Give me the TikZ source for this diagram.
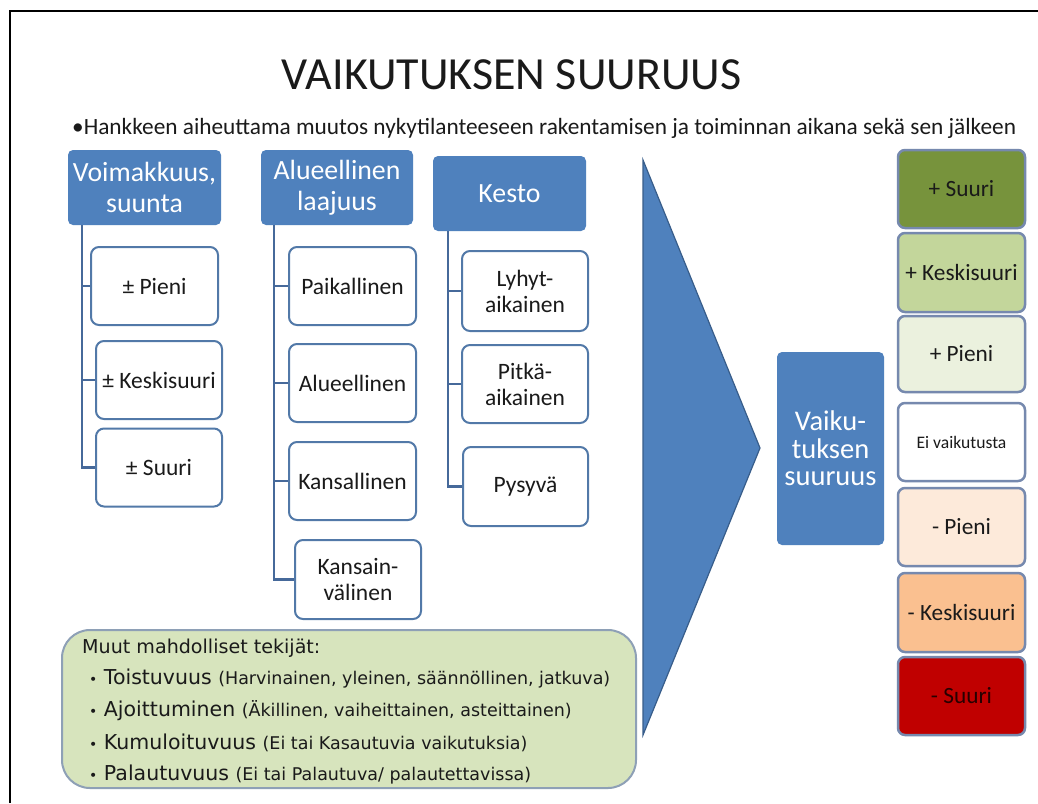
\documentclass[tikz,border=0pt]{standalone}
\usepackage{fontspec}
\setmainfont{Carlito}
\newfontfamily\verd{DejaVu Sans}
\definecolor{hblue}{HTML}{4F81BD}
\definecolor{lineblue}{HTML}{46699A}
\definecolor{leafedge}{HTML}{5279A8}
\definecolor{triedge}{HTML}{385D8A}
\definecolor{lvledge}{HTML}{7689AE}
\definecolor{gbig}{HTML}{77933C}
\definecolor{gmid}{HTML}{C3D69B}
\definecolor{gsmall}{HTML}{EBF1DE}
\definecolor{rsmall}{HTML}{FDEADA}
\definecolor{rmid}{HTML}{FAC090}
\definecolor{rbig}{HTML}{C00000}
\definecolor{notefill}{HTML}{D7E4BD}
\definecolor{noteedge}{HTML}{8EA0B6}
\definecolor{ink}{HTML}{1A1A1A}
\tikzset{
  hdr/.style={rounded corners=5pt, fill=hblue, text=white, align=center, inner sep=0pt,
    font=\fontsize{27.8}{31}\selectfont},
  leaf/.style={rounded corners=8pt, draw=leafedge, line width=2pt, fill=white, text=ink,
    align=center, inner sep=0pt, minimum width=126pt, minimum height=78pt,
    font=\fontsize{23.5}{26}\selectfont},
  conn/.style={draw=lineblue, line width=2.5pt},
  lvlbox/.style={rounded corners=7pt, draw=lvledge, line width=2.5pt, text=ink,
    minimum width=127pt, minimum height=78pt, inner sep=0pt, align=center,
    font=\fontsize{23.3}{26}\selectfont},
  noteline/.style={anchor=west, inner sep=0pt, text=ink, font=\verd\fontsize{20.5}{24}\selectfont},
}
\newcommand{\paren}[1]{{\fontsize{17.5}{20}\selectfont #1}}
\newcommand{\dotmark}{{\fontsize{14}{16}\selectfont•}}
\begin{document}
\begin{tikzpicture}[x=1pt,y=-1pt]
\useasboundingbox (0,0) rectangle (1038,803);
\fill[white] (0,0) rectangle (1038,803);
% slide frame
\draw[line width=2pt] (10,803) -- (10,11) -- (1038,11);

% title and subtitle
\node[font=\fontsize{46}{50}\selectfont, text=ink] (title) at (511.5,75) {VAIKUTUKSEN SUURUUS};
\node[font=\fontsize{23.3}{26}\selectfont, text=ink, anchor=west, inner sep=0pt] (sub) at (72,128)
  {•Hankkeen aiheuttama muutos nykytilanteeseen rakentamisen ja toiminnan aikana sekä sen jälkeen};

% column headers
\node[hdr, minimum width=153pt, minimum height=75pt] (h1) at (144.5,187.5) {Voimakkuus,\\suunta};
\node[hdr, minimum width=152pt, minimum height=75pt] (h2) at (337,187.5) {Alueellinen\\laajuus};
\node[hdr, minimum width=153pt, minimum height=75pt] (h3) at (509.5,193.5) {Kesto};

% column 1
\node[leaf, minimum width=127pt] (c1) at (154.5,286) {± Pieni};
\node[leaf] (c2) at (159,380) {± Keskisuuri};
\node[leaf] (c3) at (159,467.5) {± Suuri};
% column 2
\node[leaf, minimum width=127pt] (d1) at (352.5,286) {Paikallinen};
\node[leaf, minimum width=127pt] (d2) at (352.5,383) {Alueellinen};
\node[leaf, minimum width=127pt] (d3) at (352.5,481) {Kansallinen};
\node[leaf, minimum height=79pt] (d4) at (358,579.5) {Kansain-\\välinen};
% column 3
\node[leaf, minimum height=80pt] (e1) at (525,291) {Lyhyt-\\aikainen};
\node[leaf] (e2) at (525,384) {Pitkä-\\aikainen};
\node[leaf, minimum width=125pt, minimum height=79pt] (e3) at (525.5,486.5) {Pysyvä};

% tree connectors
\foreach \c in {c1,c2,c3} \draw[conn] ([xshift=14pt]h1.south west) |- (\c.west);
\foreach \c in {d1,d2,d3,d4} \draw[conn] ([xshift=13pt]h2.south west) |- (\c.west);
\foreach \c in {e1,e2,e3} \draw[conn] ([xshift=15pt]h3.south west) |- (\c.west);

% big arrow head
\filldraw[fill=hblue, draw=triedge, line width=1.2pt, line join=miter] (643,160) -- (760,448) -- (643,735) -- cycle;

% result box
\node[hdr, minimum width=107pt, minimum height=193pt, font=\fontsize{28.5}{27.5}\selectfont] (res) at (830.5,448.5)
  {Vaiku-\\tuksen\\suuruus};

% magnitude scale
\node[lvlbox, fill=gbig]   (r1) at (961.5,189)   {+ Suuri};
\node[lvlbox, fill=gmid, minimum height=79pt]   (r2) at (961.5,272.5) {+ Keskisuuri};
\node[lvlbox, fill=gsmall, minimum height=76pt] (r3) at (961.5,354)   {+ Pieni};
\node[lvlbox, fill=white, font=\fontsize{17.6}{20}\selectfont] (r4) at (961.5,442) {Ei vaikutusta};
\node[lvlbox, fill=rsmall] (r5) at (961.5,527)   {- Pieni};
\node[lvlbox, fill=rmid, minimum height=79pt]   (r6) at (961.5,612.5) {- Keskisuuri};
\node[lvlbox, fill=rbig, text=black!80!rbig]   (r7) at (961.5,696)   {- Suuri};

% other factors
\node[rounded corners=28pt, fill=notefill, draw=noteedge, line width=2pt,
      minimum width=574pt, minimum height=158pt, inner sep=0pt] (note) at (349,709) {};
\node[noteline, font=\verd\fontsize{19.1}{24}\selectfont] (n0) at (82,648) {Muut mahdolliset tekijät:};
\node[noteline] (n1) at (89,679) {\dotmark\ Toistuvuus \paren{(Harvinainen, yleinen, säännöllinen, jatkuva)}};
\node[noteline] (n2) at (89,711) {\dotmark\ Ajoittuminen \paren{(Äkillinen, vaiheittainen, asteittainen)}};
\node[noteline] (n3) at (89,743) {\dotmark\ Kumuloituvuus \paren{(Ei tai Kasautuvia vaikutuksia)}};
\node[noteline] (n4) at (89,775) {\dotmark\ Palautuvuus \paren{(Ei tai Palautuva/ palautettavissa)}};
\end{tikzpicture}
\end{document}
